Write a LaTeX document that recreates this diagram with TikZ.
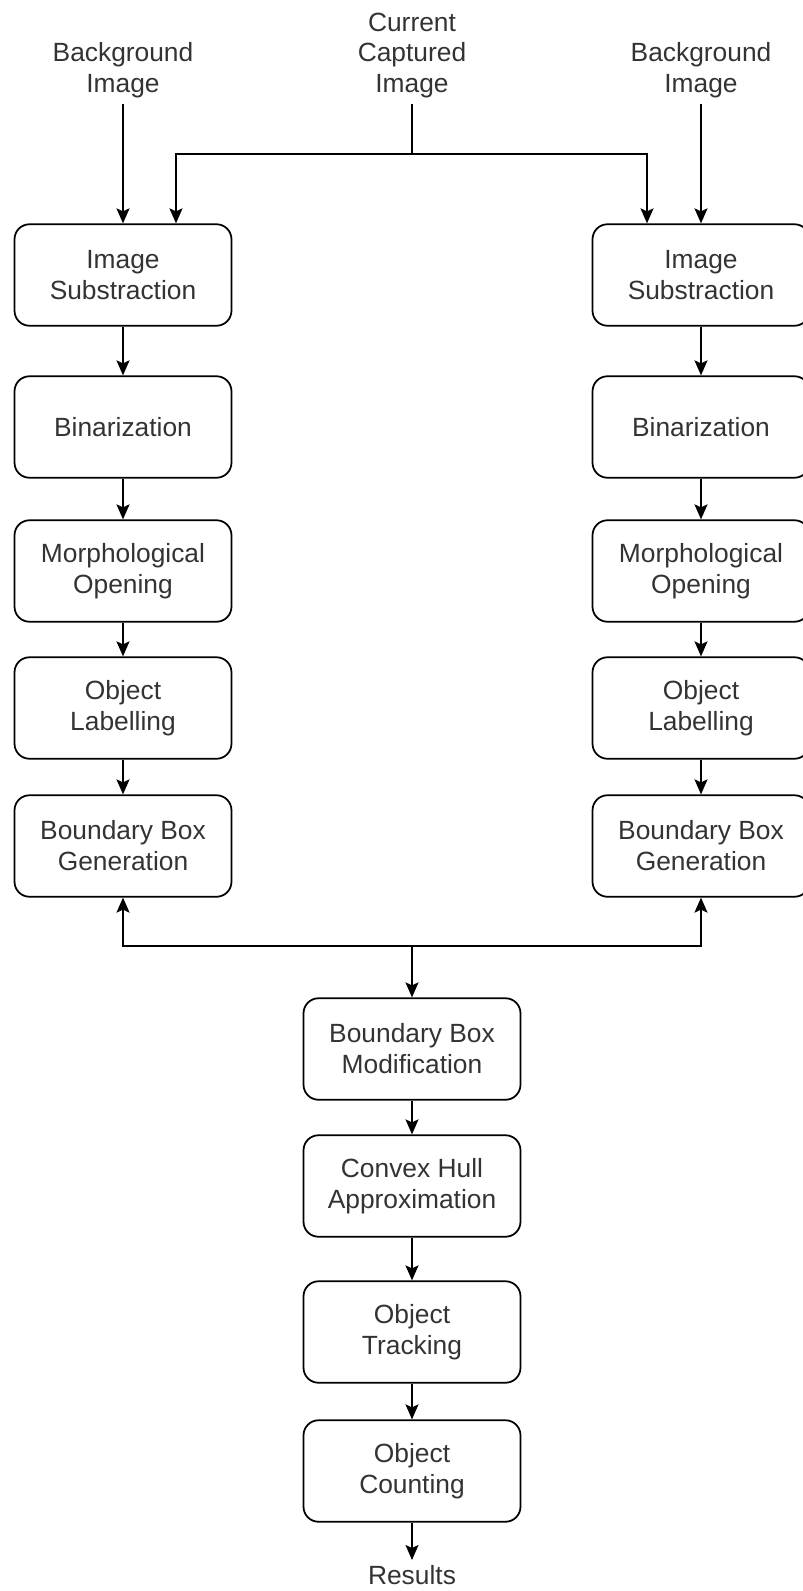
\documentclass[tikz,border=0pt]{standalone}
\usepackage{fontspec}
\setmainfont{Liberation Sans}
\usetikzlibrary{arrows.meta,calc}
\tikzset{
  stage/.style={draw, rounded corners=0.3cm, line width=1pt, minimum width=4.34cm,
    minimum height=2.03cm, align=center, text=black!80, font=\fontsize{15}{17.6}\selectfont},
  src/.style={align=center, inner sep=3pt, text=black!80, font=\fontsize{15}{17.6}\selectfont},
  flow/.style={line width=1pt, -{Stealth[length=0.3cm,width=0.26cm,inset=0.06cm]}}
}
\begin{document}
\begin{tikzpicture}[x=0.02cm,y=-0.02cm]
\useasboundingbox (0,0) rectangle (802,1591);
% inputs
\node[src,anchor=south] (bgl) at (123,104) {Background\\Image};
\node[src,anchor=south] (cur) at (412,104) {Current\\Captured\\Image};
\node[src,anchor=south] (bgr) at (701,104) {Background\\Image};
% left column
\node[stage] (lis) at (123,275) {Image\\Substraction};
\node[stage] (lbin) at (123,427) {Binarization};
\node[stage] (lmo) at (123,571) {Morphological\\Opening};
\node[stage] (lol) at (123,708) {Object\\Labelling};
\node[stage] (lbbg) at (123,846) {Boundary Box\\Generation};
% right column
\node[stage] (ris) at (701,275) {Image\\Substraction};
\node[stage] (rbin) at (701,427) {Binarization};
\node[stage] (rmo) at (701,571) {Morphological\\Opening};
\node[stage] (rol) at (701,708) {Object\\Labelling};
\node[stage] (rbbg) at (701,846) {Boundary Box\\Generation};
% merged part
\node[stage] (bbm) at (412,1049) {Boundary Box\\Modification};
\node[stage] (cha) at (412,1186) {Convex Hull\\Approximation};
\node[stage] (ot) at (412,1332) {Object\\Tracking};
\node[stage] (oc) at (412,1471) {Object\\Counting};
\node[src,anchor=north] (res) at (412,1560) {Results};
\coordinate (split) at (412,154);
\coordinate (merge) at (412,946);
% arrows
\draw[flow] (bgl) -- (lis);
\draw[flow] (bgr) -- (ris);
\draw[flow] (cur) -- (split) -| ([xshift=1.06cm]lis.north);
\draw[flow] (split) -| ([xshift=-1.08cm]ris.north);
\draw[flow] (lis) -- (lbin);
\draw[flow] (lbin) -- (lmo);
\draw[flow] (lmo) -- (lol);
\draw[flow] (lol) -- (lbbg);
\draw[flow] (ris) -- (rbin);
\draw[flow] (rbin) -- (rmo);
\draw[flow] (rmo) -- (rol);
\draw[flow] (rol) -- (rbbg);
\draw[flow] (merge) -| (lbbg);
\draw[flow] (merge) -| (rbbg);
\draw[flow] (merge) -- (bbm);
\draw[flow] (bbm) -- (cha);
\draw[flow] (cha) -- (ot);
\draw[flow] (ot) -- (oc);
\draw[flow] (oc) -- (res);
\end{tikzpicture}
\end{document}
